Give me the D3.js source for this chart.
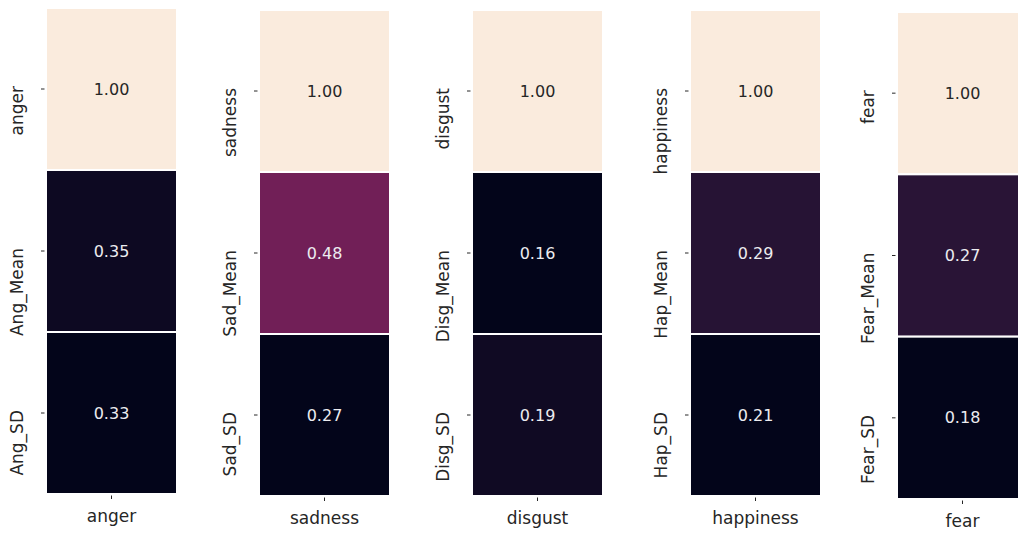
<!DOCTYPE html>
<html>
<head>
<meta charset="utf-8">
<script src="https://cdn.jsdelivr.net/npm/d3@7"></script>
<style>
  html, body { margin: 0; padding: 0; background: #ffffff; }
  svg { display: block; }
  text { font-family: "DejaVu Sans", sans-serif; }
</style>
</head>
<body>
<svg id="chart" width="1018" height="533"></svg>
<script>
// Emotion columns, one heatmap per emotion
const emotions = ["anger", "sadness", "disgust", "happiness", "fear"];

// Row labels of each heatmap
const rowLabels = [
  ["anger", "Ang_Mean", "Ang_SD"],
  ["sadness", "Sad_Mean", "Sad_SD"],
  ["disgust", "Disg_Mean", "Disg_SD"],
  ["happiness", "Hap_Mean", "Hap_SD"],
  ["fear", "Fear_Mean", "Fear_SD"]
];

// Correlation values shown in each heatmap (top to bottom)
const angerValues = [1.00, 0.35, 0.33];
const sadnessValues = [1.00, 0.48, 0.27];
const disgustValues = [1.00, 0.16, 0.19];
const happinessValues = [1.00, 0.29, 0.21];
const fearValues = [1.00, 0.27, 0.18];
const panelValues = [angerValues, sadnessValues, disgustValues, happinessValues, fearValues];

// Panel boxes in pixels (left, top, bottom)
const panelLeft = [46, 259, 472, 690, 897];
const panelTop = [8, 10, 10, 10, 12];
const panelBottom = [494, 496, 496, 496, 499];
const panelWidth = 131;

// "rocket" colormap stops
const rocketStops = ["#03051a", "#35193e", "#701f57", "#ad1759", "#e13342", "#f37651", "#f6b48f", "#faebdd"];
const rocket = d3.scaleLinear()
  .domain(d3.range(rocketStops.length).map(i => i / (rocketStops.length - 1)))
  .range(rocketStops)
  .interpolate(d3.interpolateRgb)
  .clamp(true);

const svg = d3.select("#chart");
const textColor = "#262626";

emotions.forEach((emo, p) => {
  const vals = panelValues[p];
  const labels = rowLabels[p];
  const x0 = panelLeft[p];
  const g = svg.append("g");

  const y = d3.scaleBand().domain(labels).range([panelTop[p], panelBottom[p]]);
  const x = d3.scaleBand().domain([emo]).range([x0, x0 + panelWidth]);

  // each heatmap is normalised on its own range
  const norm = d3.scaleLinear().domain(d3.extent(vals)).range([0, 1]);

  const cells = g.selectAll("g.cell")
    .data(vals.map((v, i) => ({ v, label: labels[i] })))
    .join("g").attr("class", "cell");

  cells.append("rect")
    .attr("x", x(emo))
    .attr("y", d => y(d.label))
    .attr("width", x.bandwidth())
    .attr("height", y.bandwidth())
    .attr("fill", d => rocket(norm(d.v)))
    .attr("stroke", "#ffffff")
    .attr("stroke-width", 2);

  cells.append("text")
    .attr("x", x(emo) + x.bandwidth() / 2)
    .attr("y", d => y(d.label) + y.bandwidth() / 2)
    .attr("text-anchor", "middle")
    .attr("dominant-baseline", "central")
    .attr("font-size", 16)
    .attr("fill", d => norm(d.v) > 0.6 ? textColor : "#ececf0")
    .text(d => d.v.toFixed(2));

  // y ticks and rotated labels (label ends at the tick and runs downward)
  labels.forEach(lab => {
    const cy = y(lab) + y.bandwidth() / 2;
    g.append("line")
      .attr("x1", x0 - 5).attr("x2", x0 - 1.5)
      .attr("y1", cy).attr("y2", cy)
      .attr("stroke", textColor).attr("stroke-width", 1);
    g.append("text")
      .attr("transform", `translate(${x0 - 23},${cy - 3}) rotate(-90)`)
      .attr("text-anchor", "end")
      .attr("font-size", 17)
      .attr("fill", textColor)
      .text(lab);
  });

  // x tick and label
  const cx = x(emo) + x.bandwidth() / 2;
  const yb = panelBottom[p];
  g.append("line")
    .attr("x1", cx).attr("x2", cx)
    .attr("y1", yb + 1.5).attr("y2", yb + 5)
    .attr("stroke", textColor).attr("stroke-width", 1);
  g.append("text")
    .attr("x", cx)
    .attr("y", yb + 28)
    .attr("text-anchor", "middle")
    .attr("font-size", 17)
    .attr("fill", textColor)
    .text(emo);
});
</script>
</body>
</html>
